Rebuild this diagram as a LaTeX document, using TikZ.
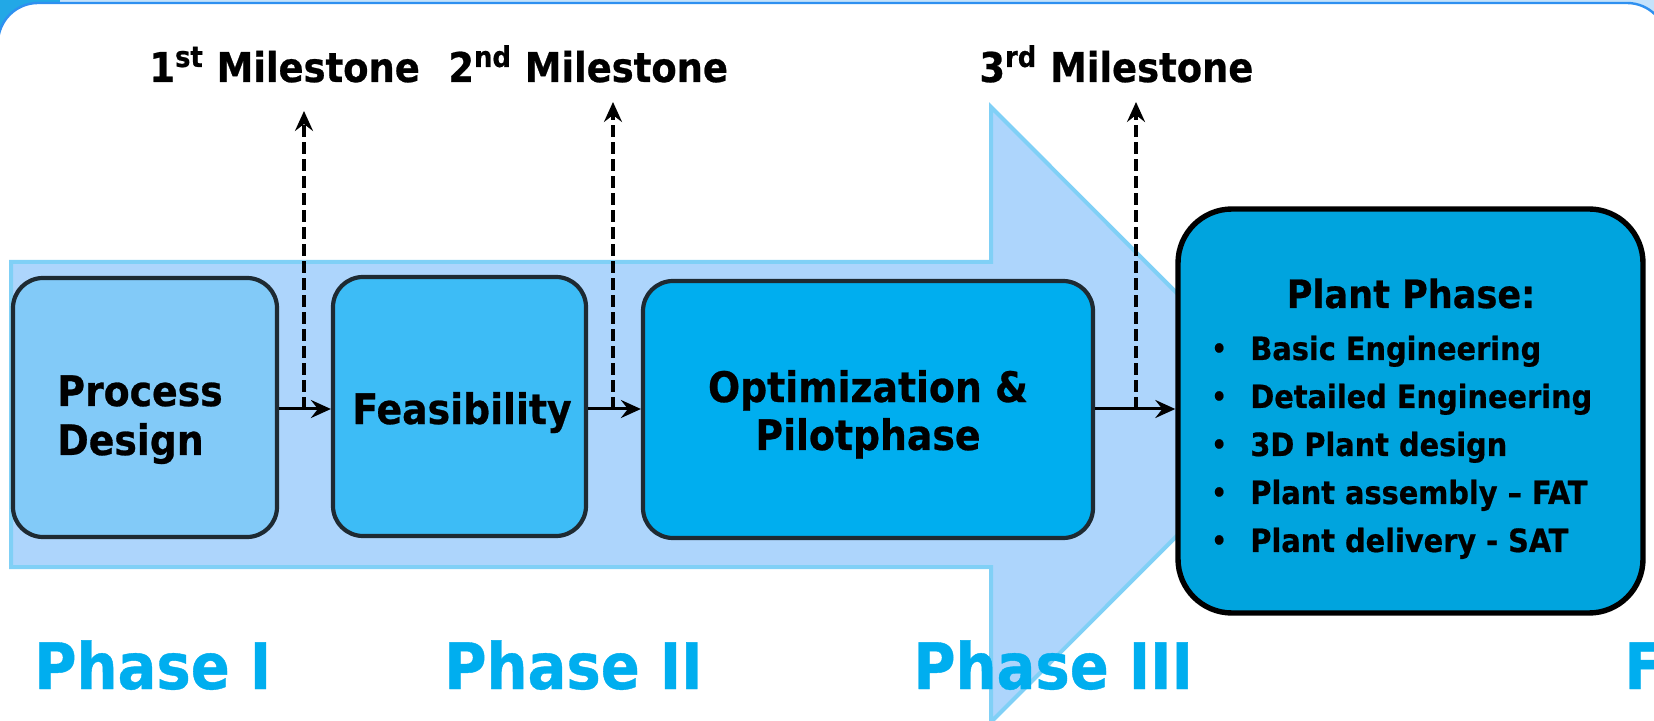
\documentclass[tikz,border=0pt]{standalone}
\usepackage{fontspec}
\setmainfont{DejaVu Sans Condensed}[BoldFeatures={FakeBold=0.6}]
\usetikzlibrary{arrows.meta}

\definecolor{slideblue}{HTML}{2E90F0}
\definecolor{outerblue}{HTML}{C4E2FB}
\definecolor{cornerblue}{HTML}{22A8E6}
\definecolor{arrowfill}{HTML}{ADD5FC}
\definecolor{arrowedge}{HTML}{80D0F6}
\definecolor{stageA}{HTML}{82CAF8}
\definecolor{stageB}{HTML}{3DBCF6}
\definecolor{stageC}{HTML}{00AEEF}
\definecolor{stageD}{HTML}{00A4DE}
\definecolor{boxline}{HTML}{1E2A32}
\definecolor{phasecol}{HTML}{00AEEF}

\begin{document}
\begin{tikzpicture}[x=0.5pt,y=-0.5pt,
  stagebox/.style={draw=boxline, line width=2.1pt, rounded corners=15pt,
    inner sep=0pt, rectangle},
  flow/.style={line width=1.5pt, -{Stealth[length=10pt,width=9pt,inset=3.5pt]}},
  mstone/.style={line width=1.7pt, dash pattern=on 6pt off 2.5pt,
    -{Stealth[length=10pt,width=9pt,inset=3.5pt]}},
  boxtext/.style={inner sep=0pt, font=\fontsize{21}{24.5}\selectfont\bfseries},
  mstext/.style={inner sep=0pt, anchor=base west, font=\fontsize{20.5}{24}\selectfont\bfseries},
  phasetext/.style={inner sep=0pt, anchor=base west, text=phasecol,
    font=\fontsize{32}{36}\selectfont\bfseries},
]
\useasboundingbox (0,0) rectangle (1654,721);
\clip (0,0) rectangle (1654,721);

% slide frame
\fill[outerblue] (0,0) rectangle (1654,721);
\fill[cornerblue] (0,0) rectangle (60,60);
\filldraw[fill=white, draw=slideblue, line width=1.2pt, rounded corners=20pt]
  (-2,3) rectangle (1667,800);

% large background arrow
\filldraw[fill=arrowfill, draw=arrowedge, line width=2pt]
  (11,262) -- (991,262) -- (991,107) -- (1298,414.5) -- (991,722)
  -- (991,567) -- (11,567) -- cycle;

% stages
\node[stagebox, fill=stageA, minimum width=132pt, minimum height=129.5pt]
  (p1) at (145,407.5) {};
\node[stagebox, fill=stageB, minimum width=126.5pt, minimum height=129.5pt]
  (p2) at (459.5,406.5) {};
\node[stagebox, fill=stageC, minimum width=225pt, minimum height=128.5pt]
  (p3) at (868,409.5) {};
\node[stagebox, draw=black, line width=2.7pt, rounded corners=27pt, fill=stageD,
  minimum width=232.5pt, minimum height=202pt]
  (p4) at (1410.5,411) {};

% stage texts
\node[boxtext, anchor=base west] (p1t) at (57,406)
  {\begin{tabular}[t]{@{}l@{}}Process\\Design\end{tabular}};
\node[boxtext, anchor=base] (p2t) at (462,424) {Feasibility};
\node[boxtext, anchor=base, font=\fontsize{21}{24}\selectfont\bfseries] (p3t) at (868,402)
  {\begin{tabular}[t]{@{}c@{}}Optimization \&\\Pilotphase\end{tabular}};
\node[inner sep=0pt, anchor=base, font=\fontsize{19.5}{22}\selectfont\bfseries]
  (p4t) at (1411,308) {Plant Phase:};
\newcommand{\plantitem}{\makebox[20.5pt][l]{\hspace{1pt}\raisebox{1pt}{\fontsize{13.5}{13.5}\selectfont\textbullet}}}
\node[inner sep=0pt, anchor=base west, font=\fontsize{16}{24}\selectfont\bfseries]
  (p4l) at (1209,360)
  {\begin{tabular}[t]{@{}l@{}}
   \plantitem Basic Engineering\\
   \plantitem Detailed Engineering\\
   \plantitem 3D Plant design\\
   \plantitem Plant assembly – FAT\\
   \plantitem Plant delivery - SAT
   \end{tabular}};

% flow between stages
\draw[flow] (p1.east |- 0,409) -- (p2.west |- 0,409);
\draw[flow] (p2.east |- 0,409) -- (p3.west |- 0,409);
\draw[flow] (p3.east |- 0,409) -- (p4.west |- 0,409);

% milestones
\node[mstext] (m1) at (149,82) {1\textsuperscript{st} Milestone};
\node[mstext] (m2) at (448,82) {2\textsuperscript{nd} Milestone};
\node[mstext] (m3) at (979,82) {3\textsuperscript{rd} Milestone};
\coordinate (m1a) at (304,409);
\coordinate (m2a) at (613,409);
\coordinate (m3a) at (1136,409);
\coordinate (m1b) at (304,111);
\coordinate (m2b) at (613,102);
\coordinate (m3b) at (1136,102);
\draw[mstone] (m1a) -- (m1b);
\draw[mstone] (m2a) -- (m2b);
\draw[mstone] (m3a) -- (m3b);

% phase captions
\node[phasetext] (ph1) at (34,689) {Phase I};
\node[phasetext] (ph2) at (444,689) {Phase II};
\node[phasetext] (ph3) at (913,689) {Phase III};
\node[phasetext] (ph4) at (1624,689) {F};
\end{tikzpicture}
\end{document}
